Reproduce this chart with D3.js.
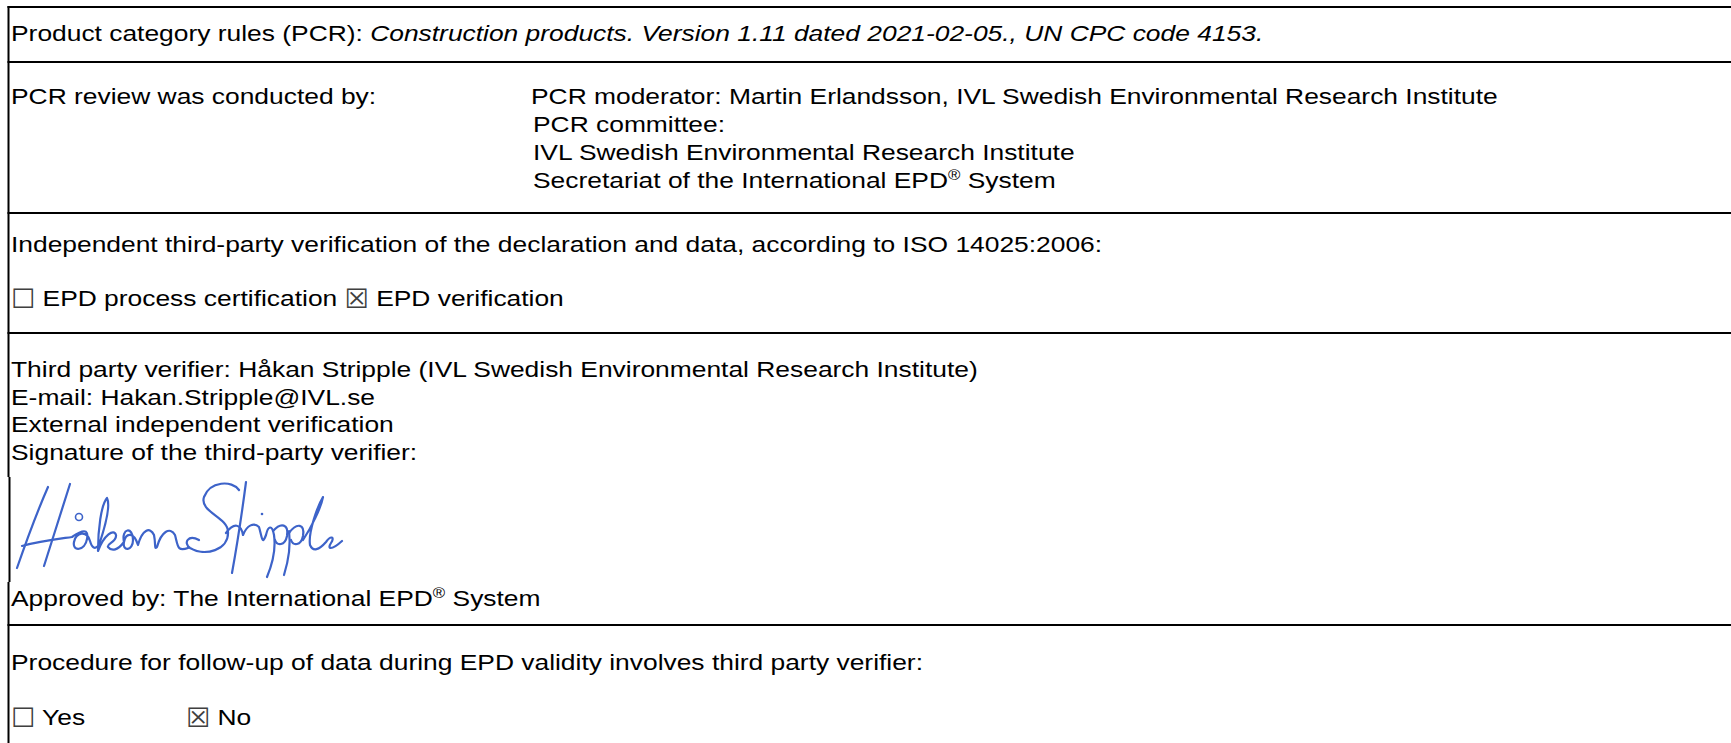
<!DOCTYPE html>
<html>
<head>
<meta charset="utf-8">
<script src="https://cdn.jsdelivr.net/npm/d3@7"></script>
<style>
  html, body { margin: 0; padding: 0; background: #fff; }
  svg { display: block; }
</style>
</head>
<body>
<div id="main"></div>
<script>
const width = 1731;
const height = 743;

// text of the table, row by row
const pcrLabel = "Product category rules (PCR): ";
const pcrValue = "Construction products. Version 1.11 dated 2021-02-05., UN CPC code 4153.";
const reviewLabel = "PCR review was conducted by:";
const reviewLines = [
  "PCR moderator: Martin Erlandsson, IVL Swedish Environmental Research Institute",
  "PCR committee:",
  "IVL Swedish Environmental Research Institute",
  "Secretariat of the International EPD|®| System"
];
const verifyLines = [
  "Independent third-party verification of the declaration and data, according to ISO 14025:2006:"
];
const verifyChoices = [["☐", "EPD process certification"], ["☒", "EPD verification"]];
const verifierLines = [
  "Third party verifier: Håkan Stripple (IVL Swedish Environmental Research Institute)",
  "E-mail: Hakan.Stripple@IVL.se",
  "External independent verification",
  "Signature of the third-party verifier:"
];
const approvedLine = "Approved by: The International EPD|®| System";
const followLine = "Procedure for follow-up of data during EPD validity involves third party verifier:";
const followChoices = [["☐", "Yes"], ["☒", "No"]];

// layout
const rules = [7, 62, 213, 333, 625];
const left = 8.5;
const textX = 11;
const fs = 22, sx = 1.2;

const svg = d3.select("#main").append("svg")
  .attr("width", width)
  .attr("height", height);

svg.append("rect").attr("width", width).attr("height", height).attr("fill", "#fff");

const g = svg.append("g");

// draws a run of pieces left to right, measuring each one
function drawPieces(x, y, pieces) {
  let cx = x;
  pieces.forEach(p => {
    if (p.at !== undefined) cx = p.at;
    const s = p.sym ? 1 : sx;
    const t = g.append("text")
      .attr("transform", "translate(" + cx + "," + (y + (p.sup ? -8 : 0) + (p.sym ? 2 : 0)) + ") scale(" + s + ",1)")
      .style("white-space", "pre")
      .attr("font-family", p.sym ? "DejaVu Sans" : "Liberation Sans, Arial, sans-serif")
      .attr("font-size", p.sup ? 14 : (p.sym ? 27 : fs))
      .attr("font-style", p.i ? "italic" : "normal")
      .attr("fill", p.sym ? "#404040" : "#000")
      .text(p.t);
    cx += t.node().getComputedTextLength() * s;
  });
}

function textLine(x, y, str) {
  const parts = str.split("|");
  drawPieces(x, y, parts.map((t, i) => ({ t: t, sup: i % 2 === 1 })));
}

function choiceLine(x, y, choices, tabs) {
  const pieces = [];
  choices.forEach((c, i) => {
    const p = { t: c[0], sym: true };
    if (tabs && tabs[i] !== undefined) p.at = tabs[i];
    else if (i > 0) pieces.push({ t: " " });
    pieces.push(p);
    pieces.push({ t: " " + c[1] });
  });
  drawPieces(x, y, pieces);
}

// row 1
drawPieces(textX, 41, [{ t: pcrLabel }, { t: pcrValue, i: true }]);

// row 2
textLine(textX, 104, reviewLabel);
const reviewY = d3.scaleLinear().domain([0, 1]).range([104, 132]);
reviewLines.forEach((l, i) => textLine(i === 0 ? 531 : 533, reviewY(i), l));

// row 3
textLine(textX, 252, verifyLines[0]);
choiceLine(textX, 306, verifyChoices);

// row 4
const verY = d3.scaleLinear().domain([0, 1]).range([377, 404.5]);
verifierLines.forEach((l, i) => textLine(textX, verY(i), l));
textLine(textX, 606, approvedLine);

// row 5
textLine(textX, 670, followLine);
choiceLine(textX, 725, followChoices, [undefined, 186]);

// signature, hand traced
const sig = [
  "M17,568 C25,545 37,512 48,487",
  "M70,484 C62,510 52,540 44,566",
  "M22,546 C40,541 58,539 72,537 C82,530 89,528 87,539 C85,551 72,552 74,542 C76,532 87,530 90,541 C92,548 95,550 99,545 C104,530 111,506 107,498 C101,505 98,530 98,551 C104,535 114,528 116,535 C117,542 106,544 108,547 C112,552 118,550 124,542 C121,528 133,526 133,540 C133,551 122,552 124,542 C126,532 134,532 138,545 C142,530 150,526 154,535 C156,545 154,550 157,547 C161,532 170,526 175,535 C178,546 177,552 188,548",
  "M239,490 C232,480 210,481 204,497 C199,512 228,517 228,532 C229,550 205,557 190,548 C183,543 188,534 199,540",
  "M246,482 C243,505 238,540 232,573",
  "M226,533 C234,522 241,524 243,535 C247,525 254,522 259,527 C262,537 262,546 266,535 C268,526 272,524 274,535 C276,549 272,565 267,577",
  "M273,531 C281,522 289,524 287,536 C285,546 277,546 275,540",
  "M289,531 C291,546 288,562 284,575",
  "M289,533 C297,522 305,524 303,536 C301,546 293,546 291,540",
  "M303,540 C311,528 321,508 323,497 C318,505 308,532 310,545 C313,552 319,550 326,542 C331,535 335,537 331,543 C327,549 331,551 342,541"
];
g.append("g").selectAll("path").data(sig).join("path")
  .attr("d", d => d)
  .attr("fill", "none")
  .attr("stroke", "#3d63c9")
  .attr("stroke-width", 2.2)
  .attr("stroke-linecap", "round")
  .attr("stroke-linejoin", "round");
g.append("circle").attr("cx", 79).attr("cy", 517).attr("r", 3.5)
  .attr("fill", "none").attr("stroke", "#3d63c9").attr("stroke-width", 1.6);
g.append("circle").attr("cx", 262).attr("cy", 514).attr("r", 1.3).attr("fill", "#3d63c9");

// table rules
g.append("g").selectAll("line").data(rules).join("line")
  .attr("x1", left - 1).attr("x2", width)
  .attr("y1", d => d).attr("y2", d => d)
  .attr("stroke", "#000").attr("stroke-width", 2.2);

const borderSegs = [[rules[0] - 1, 477, left], [477, 582, left + 1], [582, height, left]];
g.append("g").selectAll("line").data(borderSegs).join("line")
  .attr("x1", d => d[2]).attr("x2", d => d[2])
  .attr("y1", d => d[0]).attr("y2", d => d[1])
  .attr("stroke", "#000").attr("stroke-width", 2);
</script>
</body>
</html>
